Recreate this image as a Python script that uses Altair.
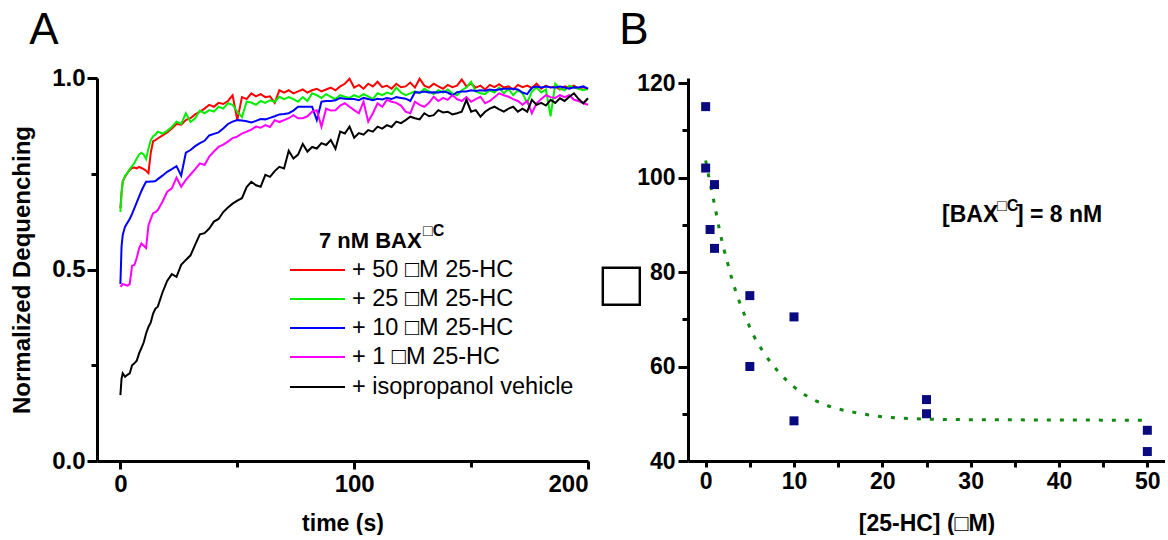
import altair as alt
import pandas as pd

# ---------------- Panel A data (time course) ----------------
time_s = [0, 0.5, 1, 2, 3, 4, 5, 6, 7, 8, 9, 10, 11, 12, 13, 14, 15, 16,
          18, 20, 22, 24, 26, 28, 30, 32, 34, 36,
          38, 40, 42, 44, 46, 48, 50, 52, 54, 56,
          58, 60, 62, 64, 66, 68, 70, 72, 74, 76,
          78, 80, 82, 84, 86, 88, 90, 92, 94, 96,
          98, 100, 102, 104, 106, 108, 110, 112, 114, 116,
          118, 120, 122, 124, 126, 128, 130, 132, 134, 136,
          138, 140, 142, 144, 146, 148, 150, 152, 154, 156,
          158, 160, 162, 164, 166, 168, 170, 172, 174, 176,
          178, 180, 182, 184, 186, 188, 190, 192, 194, 196,
          198, 200]

red_50uM = [0.660, 0.700, 0.730, 0.742, 0.752, 0.760, 0.765, 0.766, 0.764, 0.768, 0.765, 0.762, 0.758, 0.752, 0.805, 0.835, 0.838, 0.842,
            0.850, 0.858, 0.868, 0.880, 0.878, 0.890, 0.895, 0.905, 0.912, 0.920,
            0.930, 0.925, 0.935, 0.932, 0.940, 0.955, 0.890, 0.950, 0.945, 0.960,
            0.952, 0.958, 0.950, 0.952, 0.935, 0.968, 0.962, 0.968, 0.960, 0.965,
            0.970, 0.962, 0.968, 0.972, 0.965, 0.970, 0.975, 0.968, 0.978, 0.985,
            0.998, 0.975, 0.982, 0.972, 0.985, 0.978, 0.990, 0.976, 0.980, 0.972,
            0.985, 0.976, 0.978, 0.988, 0.975, 0.998, 0.980, 0.975, 0.985, 0.978,
            0.972, 0.982, 0.976, 0.980, 0.996, 0.978, 0.985, 0.975, 0.980, 0.970,
            0.982, 0.976, 0.984, 0.975, 0.978, 0.970, 0.982, 0.976, 0.980, 0.974,
            0.985, 0.972, 0.980, 0.975, 0.978, 0.970, 0.978, 0.975, 0.980, 0.972,
            0.976, 0.970]

green_25uM = [0.650, 0.700, 0.728, 0.745, 0.752, 0.762, 0.770, 0.778, 0.790, 0.800, 0.805, 0.800, 0.788, 0.815, 0.838, 0.848, 0.852, 0.860,
              0.855, 0.862, 0.872, 0.886, 0.880, 0.908, 0.885, 0.895, 0.915, 0.908,
              0.916, 0.912, 0.925, 0.920, 0.934, 0.930, 0.912, 0.898, 0.938, 0.936,
              0.930, 0.940, 0.935, 0.942, 0.938, 0.951, 0.945, 0.950, 0.945, 0.938,
              0.950, 0.940, 0.960, 0.955, 0.948, 0.958, 0.951, 0.945, 0.955, 0.951,
              0.948, 0.955, 0.950, 0.958, 0.952, 0.945, 0.960, 0.955, 0.962, 0.958,
              0.975, 0.962, 0.955, 0.960, 0.965, 0.960, 0.972, 0.965, 0.958, 0.968,
              0.962, 0.970, 0.960, 0.955, 0.968, 0.975, 0.990, 0.965, 0.960, 0.958,
              0.968, 0.962, 0.975, 0.960, 0.972, 0.955, 0.968, 0.960, 0.935, 0.965,
              0.975, 0.962, 0.970, 0.900, 0.985, 0.972, 0.968, 0.980, 0.975, 0.972,
              0.968, 0.972]

blue_10uM = [0.462, 0.560, 0.590, 0.612, 0.622, 0.632, 0.645, 0.660, 0.675, 0.690, 0.705, 0.718, 0.729, 0.729, 0.730, 0.730, 0.731, 0.736,
             0.745, 0.755, 0.762, 0.770, 0.745, 0.805, 0.812, 0.822, 0.830, 0.836,
             0.850, 0.854, 0.858, 0.868, 0.880, 0.886, 0.890, 0.889, 0.887, 0.884,
             0.888, 0.893, 0.892, 0.896, 0.900, 0.905, 0.906, 0.908, 0.915, 0.925,
             0.925, 0.925, 0.925, 0.890, 0.938, 0.940, 0.940, 0.942, 0.948, 0.946,
             0.945, 0.945, 0.942, 0.948, 0.945, 0.942, 0.946, 0.944, 0.948, 0.945,
             0.950, 0.948, 0.946, 0.940, 0.963, 0.962, 0.965, 0.962, 0.963, 0.962,
             0.965, 0.962, 0.955, 0.963, 0.965, 0.965, 0.968, 0.966, 0.968, 0.967,
             0.970, 0.968, 0.970, 0.972, 0.972, 0.972, 0.970, 0.962, 0.958, 0.975,
             0.978, 0.975, 0.978, 0.976, 0.975, 0.978, 0.975, 0.972, 0.976, 0.975,
             0.978, 0.972]

magenta_1uM = [0.455, 0.458, 0.462, 0.460, 0.458, 0.462, 0.510, 0.512, 0.530, 0.555, 0.568, 0.562, 0.556, 0.615, 0.632, 0.647, 0.650, 0.655,
               0.677, 0.703, 0.712, 0.740, 0.716, 0.734, 0.748, 0.762, 0.777, 0.773,
               0.795, 0.808, 0.820, 0.826, 0.834, 0.843, 0.847, 0.855, 0.860, 0.865,
               0.873, 0.870, 0.877, 0.872, 0.890, 0.885, 0.890, 0.895, 0.903, 0.895,
               0.895, 0.900, 0.912, 0.916, 0.873, 0.920, 0.915, 0.916, 0.928, 0.934,
               0.925, 0.916, 0.908, 0.938, 0.886, 0.908, 0.934, 0.925, 0.943, 0.938,
               0.935, 0.928, 0.912, 0.908, 0.938, 0.930, 0.925, 0.935, 0.951, 0.940,
               0.948, 0.943, 0.955, 0.945, 0.940, 0.950, 0.938, 0.945, 0.951, 0.934,
               0.940, 0.950, 0.960, 0.955, 0.951, 0.945, 0.940, 0.930, 0.940, 0.908,
               0.934, 0.945, 0.955, 0.950, 0.948, 0.955, 0.950, 0.955, 0.943, 0.940,
               0.934, 0.930]

black_vehicle = [0.172, 0.215, 0.229, 0.220, 0.225, 0.229, 0.250, 0.255, 0.262, 0.281, 0.295, 0.310, 0.333, 0.350, 0.362, 0.385, 0.398, 0.403,
                 0.440, 0.470, 0.488, 0.481, 0.512, 0.525, 0.537, 0.565, 0.592, 0.595,
                 0.607, 0.625, 0.632, 0.650, 0.662, 0.672, 0.680, 0.686, 0.715, 0.729,
                 0.720, 0.716, 0.747, 0.742, 0.757, 0.768, 0.764, 0.810, 0.790, 0.800,
                 0.828, 0.808, 0.820, 0.816, 0.830, 0.825, 0.838, 0.815, 0.860, 0.855,
                 0.873, 0.844, 0.856, 0.852, 0.864, 0.860, 0.873, 0.868, 0.877, 0.872,
                 0.886, 0.882, 0.890, 0.899, 0.895, 0.892, 0.908, 0.900, 0.903, 0.916,
                 0.910, 0.912, 0.905, 0.908, 0.912, 0.943, 0.912, 0.916, 0.899, 0.912,
                 0.920, 0.925, 0.918, 0.912, 0.920, 0.925, 0.912, 0.920, 0.912, 0.943,
                 0.930, 0.935, 0.928, 0.943, 0.935, 0.947, 0.940, 0.951, 0.960, 0.945,
                 0.934, 0.947]

series_labels = ["+ 50 \u25a1M 25-HC", "+ 25 \u25a1M 25-HC", "+ 10 \u25a1M 25-HC",
                 "+ 1 \u25a1M 25-HC", "+ isopropanol vehicle"]
series_colors = ["#ff0000", "#00ee00", "#0000ff", "#ff00ff", "#000000"]
series_values = [red_50uM, green_25uM, blue_10uM, magenta_1uM, black_vehicle]

# ---------------- Panel B data ----------------
hc_conc = [0, 0, 0.5, 1, 1, 5, 5, 10, 10, 25, 25, 50, 50]
hc_response = [115, 102, 89, 98.5, 85, 75, 60, 70.5, 48.5, 53, 50, 46.5, 42]

fit_conc = [0, 0.5, 1, 1.6, 2.1, 2.5, 2.9, 3.5, 4.1, 4.7, 5.5, 6.6, 7.6, 9.2, 10.6,
            12.2, 13.8, 15.5, 17.1, 18.7, 20.3, 21.9, 23.8, 27, 30.2, 36.7, 44.8, 50]
fit_response = [103.6, 98.8, 94.3, 88.6, 84.6, 81.8, 79.0, 75.4, 72.3, 69.6, 66.3, 62.9, 60.3,
                57.0, 54.8, 53.0, 51.7, 50.8, 50.2, 49.7, 49.3, 49.1, 48.95, 48.8, 48.75,
                48.7, 48.65, 48.6]

FONT = "Liberation Sans"

# ---------------- Panel A ----------------
WA, HA = 491, 383
one = pd.DataFrame({"k": [0]})

x_a = alt.X("t:Q", scale=alt.Scale(domain=[-10, 200], nice=False, zero=False),
            axis=alt.Axis(values=[0, 50, 100, 150, 200],
                          labelExpr="datum.value % 100 === 0 ? datum.label : ''",
                          title="time (s)", titleFontSize=23, titleY=62,
                          titleBaseline="middle", labelFontSize=24, labelPadding=3,
                          tickSize={"condition": {"test": "datum.value % 100 !== 0", "value": 6}, "value": 8}))
y_a = alt.Y("v:Q", scale=alt.Scale(domain=[0, 1], nice=False, zero=False),
            axis=alt.Axis(values=[0, 0.25, 0.5, 0.75, 1.0], format=".1f",
                          labelExpr="datum.value % 0.5 === 0 ? datum.label : ''",
                          title="Normalized Dequenching", titleFontSize=24,
                          titleX=-75, titleY=HA / 2, titleAngle=270,
                          titleAlign="center", titleBaseline="middle",
                          labelFontSize=24, labelPadding=2,
                          tickSize={"condition": {"test": "datum.value % 0.5 !== 0", "value": 6}, "value": 10}))

layers_a = []
for lab, col, vals in zip(series_labels, series_colors, series_values):
    df = pd.DataFrame({"t": time_s, "v": vals})
    layers_a.append(alt.Chart(df).mark_line(color=col, strokeWidth=2).encode(x=x_a, y=y_a))

# legend (manual, placed in the plot area like the original)
leg_x0, leg_x1, lab_x = 193, 248, 255
leg_rows = [192, 221, 250, 279, 309]
for lab, col, ry in zip(series_labels, series_colors, leg_rows):
    layers_a.append(alt.Chart(one).mark_rule(color=col, strokeWidth=2).encode(
        x=alt.value(leg_x0), x2=alt.value(leg_x1), y=alt.value(ry)))
    layers_a.append(alt.Chart(one).mark_text(text=lab, font=FONT, fontSize=23.5, align="left",
                                             baseline="middle", color="black").encode(
        x=alt.value(lab_x), y=alt.value(ry)))
layers_a.append(alt.Chart(one).mark_text(text="7 nM BAX", font=FONT, fontSize=22, fontWeight="bold",
                                         align="left", baseline="alphabetic").encode(
    x=alt.value(222), y=alt.value(170)))
layers_a.append(alt.Chart(one).mark_text(text="\u25a1C", font=FONT, fontSize=16, fontWeight="bold",
                                         align="left", baseline="alphabetic").encode(
    x=alt.value(326), y=alt.value(158)))
# panel letter
layers_a.append(alt.Chart(one).mark_text(text="A", font=FONT, fontSize=44,
                                         align="center", baseline="alphabetic").encode(
    x=alt.value(-53), y=alt.value(-34)))
# invisible anchor fixing the top-left corner of the figure
layers_a.append(alt.Chart(one).mark_rule(opacity=0, strokeWidth=0.01).encode(
    x=alt.value(-97), x2=alt.value(-97), y=alt.value(-78), y2=alt.value(-70)))

panel_a = alt.layer(*layers_a).properties(width=WA, height=HA)

# ---------------- Panel B ----------------
WB, HB = 477, 383
dfB = pd.DataFrame({"conc": hc_conc, "resp": hc_response})
dfFit = pd.DataFrame({"conc": fit_conc, "resp": fit_response})

x_b = alt.X("conc:Q", scale=alt.Scale(domain=[-2, 52], nice=False, zero=False),
            axis=alt.Axis(values=[0, 5, 10, 15, 20, 25, 30, 35, 40, 45, 50],
                          labelExpr="datum.value % 10 === 0 ? datum.label : ''",
                          title="[25-HC] (\u25a1M)", titleFontSize=23, titleY=62,
                          titleBaseline="middle", labelFontSize=23, labelPadding=3,
                          tickSize=6))
y_b = alt.Y("resp:Q", scale=alt.Scale(domain=[40, 121.06], nice=False, zero=False),
            axis=alt.Axis(values=[40, 50, 60, 70, 80, 90, 100, 110, 120],
                          labelExpr="datum.value % 20 === 0 ? datum.label : ''",
                          title="\u25a1", titleFontSize=66, titleFontWeight="bold",
                          titleX=-67, titleY=207, titleAngle=0,
                          titleAlign="center", titleBaseline="middle",
                          labelFontSize=23, labelPadding=3,
                          tickSize={"condition": {"test": "datum.value % 20 !== 0", "value": 6}, "value": 10}))

fit_line = alt.Chart(dfFit).mark_line(color="#128a12", strokeWidth=3, strokeDash=[4, 9],
                                      interpolate="monotone").encode(x=x_b, y=y_b)
pts = alt.Chart(dfB).mark_point(shape="square", filled=True, size=81, color="#0a0a80",
                                opacity=1).encode(x=x_b, y=y_b)
b_texts = [
    alt.Chart(one).mark_text(text="[BAX", font=FONT, fontSize=23, fontWeight="bold",
                             align="left", baseline="alphabetic").encode(x=alt.value(254), y=alt.value(144)),
    alt.Chart(one).mark_text(text="\u25a1C", font=FONT, fontSize=16, fontWeight="bold",
                             align="left", baseline="alphabetic").encode(x=alt.value(309), y=alt.value(133)),
    alt.Chart(one).mark_text(text="] = 8 nM", font=FONT, fontSize=23, fontWeight="bold",
                             align="left", baseline="alphabetic").encode(x=alt.value(328), y=alt.value(144)),
    alt.Chart(one).mark_text(text="B", font=FONT, fontSize=44,
                             align="center", baseline="alphabetic").encode(x=alt.value(-54), y=alt.value(-34)),
]
panel_b = alt.layer(fit_line, pts, *b_texts).properties(width=WB, height=HB)

chart = alt.hconcat(panel_a, panel_b, spacing=100, bounds="flush").properties(
    padding=0, background="white"
).configure_axis(
    domainColor="black", domainWidth=3, tickColor="black", tickWidth=3,
    labelFont=FONT, labelFontWeight="bold", labelColor="black",
    titleFont=FONT, titleFontWeight="bold", titleColor="black", grid=False
).configure_view(stroke=None)

chart.save("out.html", embed_options={"renderer": "svg", "actions": False})
